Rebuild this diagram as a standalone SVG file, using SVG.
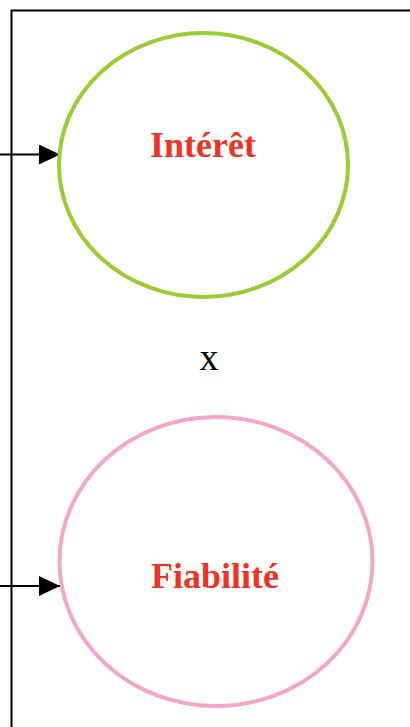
<svg xmlns="http://www.w3.org/2000/svg" width="410" height="727" viewBox="0 0 410 727">
<style>
.ln{stroke:#000;stroke-width:2;fill:none}
.lbl{font-family:"Liberation Serif","Times New Roman",serif;font-weight:bold;font-size:36px;fill:#EE3224;text-anchor:middle}
</style>
<defs>
<marker id="ah" markerWidth="21" markerHeight="20" refX="21" refY="10" orient="auto" markerUnits="userSpaceOnUse">
<path d="M0,0 L21,10 L0,20 Z" fill="#000"/>
</marker>
</defs>
<rect width="410" height="727" fill="#fff"/>
<g id="connectors">
<path class="ln" d="M11.5,727 V10.5 H410"/>
<line class="ln" x1="0" y1="154.5" x2="60" y2="154.5" marker-end="url(#ah)"/>
<line class="ln" x1="0" y1="586" x2="60" y2="586" marker-end="url(#ah)"/>
</g>
<g id="interet">
<ellipse cx="203.5" cy="165" rx="144.5" ry="132" fill="none" stroke="#9ACD32" stroke-width="4"/>
<text class="lbl" x="203" y="157">Intérêt</text>
</g>
<g id="x">
<text x="209" y="370" font-family="'Liberation Serif','Times New Roman',serif" font-size="38" text-anchor="middle" fill="#000">x</text>
</g>
<g id="fiabilite">
<ellipse cx="216" cy="561.5" rx="156.5" ry="144.5" fill="none" stroke="#F4A6C8" stroke-width="4"/>
<text class="lbl" x="215" y="588">Fiabilité</text>
</g>
</svg>
